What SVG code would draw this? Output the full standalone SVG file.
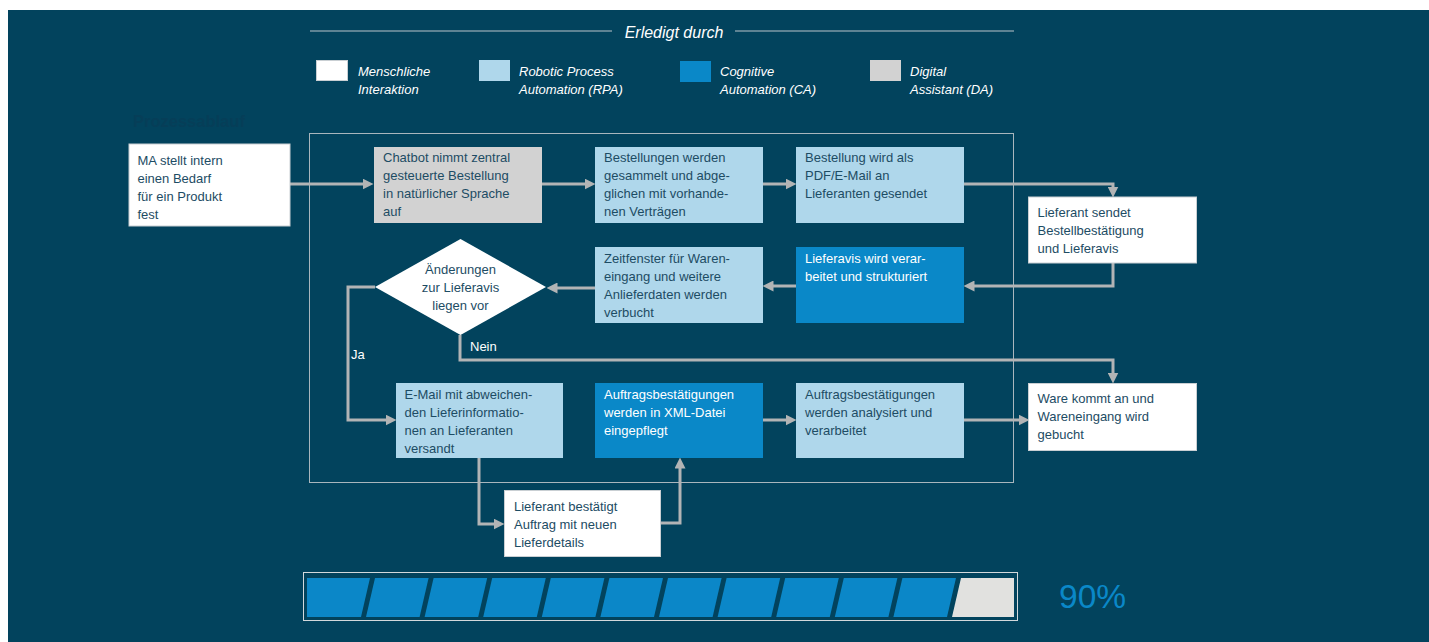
<svg xmlns="http://www.w3.org/2000/svg" width="1429" height="642" viewBox="0 0 1429 642">
<style>
text{font-family:"Liberation Sans",Arial,sans-serif;font-size:13px}
.dk{fill:#1d4c64}
.wt{fill:#ffffff}
.it{font-style:italic}
.white{fill:#ffffff;stroke:#c9cfd3;stroke-width:1}
.rpa{fill:#afd7eb}
.ca{fill:#0a88c8}
.da{fill:#d2d2d2}
.con{fill:none;stroke:#b2b4b5;stroke-width:3;marker-end:url(#ah)}
.seg{fill:#0b87c8}
</style>
<defs>
<marker id="ah" markerUnits="userSpaceOnUse" markerWidth="11" markerHeight="11" viewBox="0 0 10 10" refX="5" refY="5" orient="auto">
<path d="M0,0 L10,5 L0,10 z" fill="#b2b4b5"/>
</marker>
</defs>
<rect x="0" y="0" width="1429" height="642" fill="#ffffff"/>
<rect x="8" y="10" width="1421" height="632" fill="#02435d"/>

<g id="header">
<line x1="310" y1="31" x2="612" y2="31" stroke="#b9c3c9" stroke-width="1.2"/>
<line x1="735" y1="31" x2="1014" y2="31" stroke="#b9c3c9" stroke-width="1.2"/>
<text x="674" y="37.5" text-anchor="middle" class="wt it" style="font-size:16px">Erledigt durch</text>
</g>

<g id="legend">
<rect x="316.5" y="60.5" width="31" height="20" class="white"/>
<text x="358" y="76" class="wt it">Menschliche</text>
<text x="358" y="94" class="wt it">Interaktion</text>
<rect x="479" y="60" width="31" height="21" class="rpa"/>
<text x="519" y="76" class="wt it">Robotic Process</text>
<text x="519" y="94" class="wt it">Automation (RPA)</text>
<rect x="680" y="61" width="31" height="21" class="ca"/>
<text x="720" y="76" class="wt it">Cognitive</text>
<text x="720" y="94" class="wt it">Automation (CA)</text>
<rect x="870" y="60" width="31" height="21" class="da"/>
<text x="910" y="76" class="wt it">Digital</text>
<text x="910" y="94" class="wt it">Assistant (DA)</text>
</g>

<text id="title" x="133" y="126.5" style="font-size:16.5px;font-weight:bold" fill="#063e58">Prozessablauf</text>

<rect id="frame" x="309.5" y="133.5" width="704" height="349" fill="none" stroke="#a9b6bd" stroke-width="1"/>

<g id="connectors">
<path class="con" d="M290,184 H368"/>
<path class="con" d="M542,184 H590"/>
<path class="con" d="M763,184 H791"/>
<path class="con" d="M964,184 H1113 V192"/>
<path class="con" d="M1113,263 V286 H969"/>
<path class="con" d="M796,286 H768"/>
<path class="con" d="M595,288 H552"/>
<path class="con" d="M375,287 H348 V420 H391"/>
<path class="con" d="M460,335 V360 H1113 V378"/>
<path class="con" d="M763,420 H791"/>
<path class="con" d="M964,420 H1024"/>
<path class="con" d="M479,458 V524 H499"/>
<path class="con" d="M660,523 H680 V463"/>
<text x="470" y="351" class="wt">Nein</text>
<text x="351" y="359" class="wt">Ja</text>
</g>

<g id="n_ma">
<rect x="129" y="144" width="161" height="82" class="white"/>
<text x="137.5" y="165" class="dk">MA stellt intern</text>
<text x="137.5" y="183" class="dk">einen Bedarf</text>
<text x="137.5" y="201" class="dk">für ein Produkt</text>
<text x="137.5" y="219" class="dk">fest</text>
</g>

<g id="n_chatbot">
<rect x="374" y="147" width="168" height="76" class="da"/>
<text x="383" y="162" class="dk">Chatbot nimmt zentral</text>
<text x="383" y="180" class="dk">gesteuerte Bestellung</text>
<text x="383" y="198" class="dk">in natürlicher Sprache</text>
<text x="383" y="216" class="dk">auf</text>
</g>

<g id="n_bestellungen">
<rect x="595" y="147" width="168" height="76" class="rpa"/>
<text x="604" y="162" class="dk">Bestellungen werden</text>
<text x="604" y="180" class="dk">gesammelt und abge-</text>
<text x="604" y="198" class="dk">glichen mit vorhande-</text>
<text x="604" y="216" class="dk">nen Verträgen</text>
</g>

<g id="n_pdf">
<rect x="796" y="147" width="168" height="76" class="rpa"/>
<text x="805" y="162" class="dk">Bestellung wird als</text>
<text x="805" y="180" class="dk">PDF/E-Mail an</text>
<text x="805" y="198" class="dk">Lieferanten gesendet</text>
</g>

<g id="n_lieferant_sendet">
<rect x="1028.5" y="197" width="168" height="66" class="white"/>
<text x="1037.5" y="217" class="dk">Lieferant sendet</text>
<text x="1037.5" y="235" class="dk">Bestellbestätigung</text>
<text x="1037.5" y="253" class="dk">und Lieferavis</text>
</g>

<g id="n_lieferavis">
<rect x="796" y="247" width="168" height="76" class="ca"/>
<text x="805" y="263" class="wt">Lieferavis wird verar-</text>
<text x="805" y="281" class="wt">beitet und strukturiert</text>
</g>

<g id="n_zeitfenster">
<rect x="595" y="247" width="168" height="76" class="rpa"/>
<text x="604" y="263" class="dk">Zeitfenster für Waren-</text>
<text x="604" y="281" class="dk">eingang und weitere</text>
<text x="604" y="299" class="dk">Anlieferdaten werden</text>
<text x="604" y="317" class="dk">verbucht</text>
</g>

<g id="n_decision">
<polygon points="375,287 460.5,239 546,287 460.5,335" fill="#ffffff"/>
<text x="460.5" y="274" text-anchor="middle" class="dk">Änderungen</text>
<text x="460.5" y="292" text-anchor="middle" class="dk">zur Lieferavis</text>
<text x="460.5" y="310" text-anchor="middle" class="dk">liegen vor</text>
</g>

<g id="n_email">
<rect x="396" y="383" width="167" height="75" class="rpa"/>
<text x="404.5" y="399" class="dk">E-Mail mit abweichen-</text>
<text x="404.5" y="417" class="dk">den Lieferinformatio-</text>
<text x="404.5" y="435" class="dk">nen an Lieferanten</text>
<text x="404.5" y="453" class="dk">versandt</text>
</g>

<g id="n_xml">
<rect x="595" y="383" width="168" height="75" class="ca"/>
<text x="604" y="399" class="wt">Auftragsbestätigungen</text>
<text x="604" y="417" class="wt">werden in XML-Datei</text>
<text x="604" y="435" class="wt">eingepflegt</text>
</g>

<g id="n_analysiert">
<rect x="796" y="383" width="168" height="75" class="rpa"/>
<text x="805" y="399" class="dk">Auftragsbestätigungen</text>
<text x="805" y="417" class="dk">werden analysiert und</text>
<text x="805" y="435" class="dk">verarbeitet</text>
</g>

<g id="n_ware">
<rect x="1028.5" y="383.5" width="168" height="67" class="white"/>
<text x="1037.5" y="403" class="dk">Ware kommt an und</text>
<text x="1037.5" y="421" class="dk">Wareneingang wird</text>
<text x="1037.5" y="439" class="dk">gebucht</text>
</g>

<g id="n_lieferant_bestaetigt">
<rect x="504.5" y="490.5" width="156" height="66" class="white"/>
<text x="514" y="511" class="dk">Lieferant bestätigt</text>
<text x="514" y="529" class="dk">Auftrag mit neuen</text>
<text x="514" y="547" class="dk">Lieferdetails</text>
</g>

<g id="progress">
<rect x="303.5" y="572.5" width="714" height="48" fill="none" stroke="#d3d9dc" stroke-width="1"/>
<polygon class="seg" points="307,578 370,578 361,617 307,617"/>
<polygon class="seg" points="375,578 428.6,578 419.6,617 366,617"/>
<polygon class="seg" points="433.6,578 487.2,578 478.2,617 424.6,617"/>
<polygon class="seg" points="492.2,578 545.8,578 536.8,617 483.2,617"/>
<polygon class="seg" points="550.8,578 604.4,578 595.4,617 541.8,617"/>
<polygon class="seg" points="609.4,578 663,578 654,617 600.4,617"/>
<polygon class="seg" points="668,578 721.6,578 712.6,617 659,617"/>
<polygon class="seg" points="726.6,578 780.2,578 771.2,617 717.6,617"/>
<polygon class="seg" points="785.2,578 838.8,578 829.8,617 776.2,617"/>
<polygon class="seg" points="843.8,578 897.4,578 888.4,617 834.8,617"/>
<polygon class="seg" points="902.4,578 956,578 947,617 893.4,617"/>
<polygon points="961,578 1014,578 1014,617 952,617" fill="#e1e1df"/>
<text x="1059" y="607.5" fill="#0a88c8" style="font-size:33.5px">90%</text>
</g>
</svg>
